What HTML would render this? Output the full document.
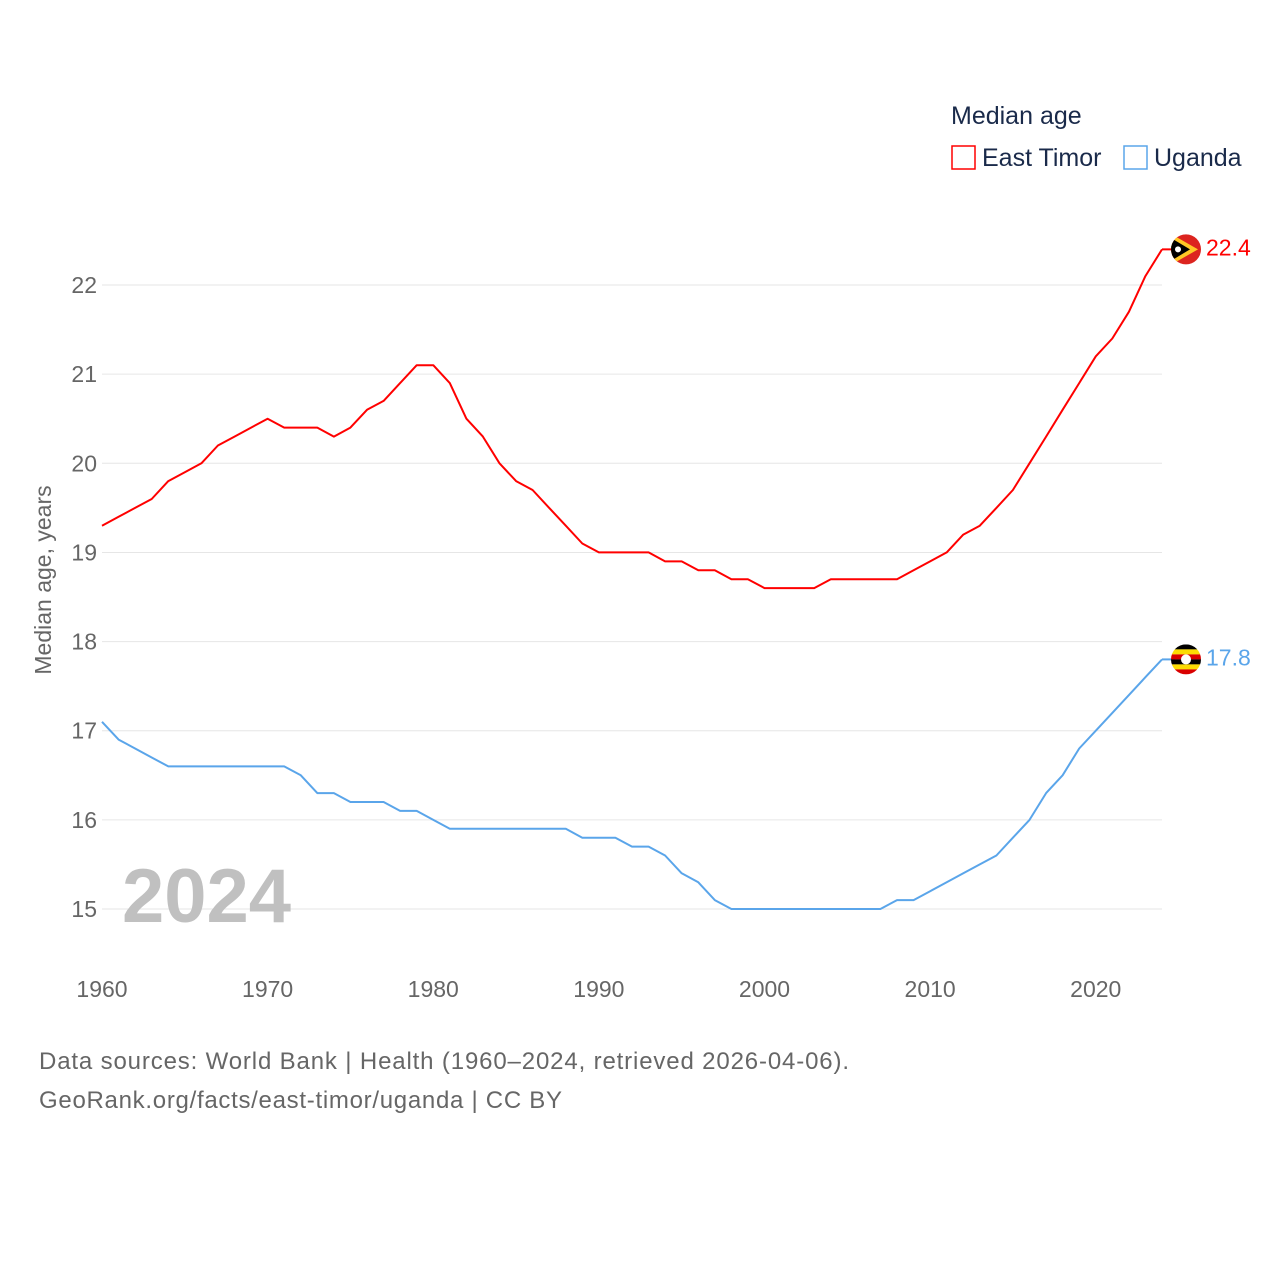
<!DOCTYPE html>
<html><head><meta charset="utf-8">
<style>
html,body{margin:0;padding:0;background:#fff;}
body{width:1280px;height:1280px;position:relative;font-family:"Liberation Sans",sans-serif;overflow:hidden;}
</style></head>
<body>
<svg id="chart" width="1280" height="1280" viewBox="0 0 1280 1280" xmlns="http://www.w3.org/2000/svg" font-family="Liberation Sans, sans-serif">
  <g id="grid"></g>
  <g id="yticks"></g>
  <g id="xticks"></g>
  <text x="122" y="922" font-size="76" font-weight="bold" fill="#c0c0c0">2024</text>
  <text transform="translate(51,580) rotate(-90)" text-anchor="middle" font-size="23" fill="#666">Median age, years</text>
  <g id="lines"></g>
  <g>
    <text x="951" y="124" font-size="25" fill="#1a2a4a">Median age</text>
    <rect x="952" y="146" width="23" height="23" fill="none" stroke="#ff0000" stroke-width="1.5"/>
    <text x="982" y="166" font-size="25" fill="#1a2a4a">East Timor</text>
    <rect x="1124" y="146" width="23" height="23" fill="none" stroke="#5aa5ea" stroke-width="1.5"/>
    <text x="1154" y="166" font-size="25" fill="#1a2a4a">Uganda</text>
  </g>
  <text x="39" y="1069" font-size="24" fill="#666" textLength="810" lengthAdjust="spacing">Data sources: World Bank | Health (1960–2024, retrieved 2026-04-06).</text>
  <text x="39" y="1108" font-size="24" fill="#666" textLength="523" lengthAdjust="spacing">GeoRank.org/facts/east-timor/uganda | CC BY</text>
</svg>
<script>
const years = [];
for (let y = 1960; y <= 2024; y++) years.push(y);
const eastTimor = [19.3,19.4,19.5,19.6,19.8,19.9,20.0,20.2,20.3,20.4,20.5,20.4,20.4,20.4,20.3,20.4,20.6,20.7,20.9,21.1,21.1,20.9,20.5,20.3,20.0,19.8,19.7,19.5,19.3,19.1,19.0,19.0,19.0,19.0,18.9,18.9,18.8,18.8,18.7,18.7,18.6,18.6,18.6,18.6,18.7,18.7,18.7,18.7,18.7,18.8,18.9,19.0,19.2,19.3,19.5,19.7,20.0,20.3,20.6,20.9,21.2,21.4,21.7,22.1,22.4];
const uganda = [17.1,16.9,16.8,16.7,16.6,16.6,16.6,16.6,16.6,16.6,16.6,16.6,16.5,16.3,16.3,16.2,16.2,16.2,16.1,16.1,16.0,15.9,15.9,15.9,15.9,15.9,15.9,15.9,15.9,15.8,15.8,15.8,15.7,15.7,15.6,15.4,15.3,15.1,15.0,15.0,15.0,15.0,15.0,15.0,15.0,15.0,15.0,15.0,15.1,15.1,15.2,15.3,15.4,15.5,15.6,15.8,16.0,16.3,16.5,16.8,17.0,17.2,17.4,17.6,17.8];
const yTicks = [15,16,17,18,19,20,21,22];
const xTicks = [1960,1970,1980,1990,2000,2010,2020];

const NS = "http://www.w3.org/2000/svg";
const X0 = 102, X1 = 1162, Y15 = 909, PXU = 89.14;
const xs = y => X0 + (y - 1960) * (X1 - X0) / 64;
const ys = v => Y15 - (v - 15) * PXU;
function mk(tag, attrs, parent) {
  const e = document.createElementNS(NS, tag);
  for (const k in attrs) e.setAttribute(k, attrs[k]);
  parent.appendChild(e);
  return e;
}
const grid = document.getElementById('grid');
const yt = document.getElementById('yticks');
yTicks.forEach(v => {
  const l = mk('line', {x1: X0, x2: X1, y1: ys(v), y2: ys(v), stroke: '#e6e6e6', 'stroke-width': 1}, grid);
  
  
  const t = mk('text', {x: 97, y: ys(v) + 8, 'text-anchor': 'end', 'font-size': 23, fill: '#666'}, yt);
  
  
  t.textContent = v;
});
const xt = document.getElementById('xticks');
xTicks.forEach(v => {
  const t = mk('text', {x: xs(v), y: 997, 'text-anchor': 'middle', 'font-size': 23, fill: '#666'}, xt);
  
  
  t.textContent = v;
});
const lines = document.getElementById('lines');
function series(vals, color, name) {
  const d = vals.map((v, i) => (i ? 'L' : 'M') + xs(years[i]).toFixed(1) + ',' + ys(v).toFixed(1)).join(' ');
  const p = mk('path', {d: d, fill: 'none', stroke: color, 'stroke-width': 2, 'stroke-linejoin': 'round'}, lines);
  
  
  const last = vals[vals.length - 1];
  const yL = ys(last);
  const c = mk('line', {x1: X1, x2: 1175, y1: yL, y2: yL, stroke: color, 'stroke-width': 2}, lines);
  
  
  const lab = mk('text', {x: 1206, y: yL + 6, 'font-size': 23, fill: color}, lines);
  
  
  lab.textContent = last.toFixed(1);
  return yL;
}
const yE = series(eastTimor, '#ff0000', 'east-timor');
const yU = series(uganda, '#5aa5ea', 'uganda');
// flags
const fE = mk('g', {}, lines);


const clipE = mk('clipPath', {id: 'etc'}, fE);
mk('circle', {cx: 1186, cy: yE, r: 15}, clipE);
const fEi = mk('g', {'clip-path': 'url(#etc)'}, fE);
mk('rect', {x: 1170, y: yE - 16, width: 32, height: 32, fill: '#dc241f'}, fEi);
mk('path', {d: `M1170,${yE-16} L1198,${yE} L1170,${yE+16} Z`, fill: '#ffc726'}, fEi);
mk('path', {d: `M1170,${yE-12} L1190,${yE} L1170,${yE+12} Z`, fill: '#000'}, fEi);
mk('circle', {cx: 1178, cy: yE, r: 3, fill: '#fff'}, fEi);
const fU = mk('g', {}, lines);


const clip = mk('clipPath', {id: 'ugc'}, fU);
mk('circle', {cx: 1186, cy: yU, r: 15}, clip);
const cols = ['#000', '#fcdc04', '#d90000', '#000', '#fcdc04', '#d90000'];
cols.forEach((c, i) => mk('rect', {x: 1171, y: yU - 15 + i * 5, width: 30, height: 5, fill: c, 'clip-path': 'url(#ugc)'}, fU));
mk('circle', {cx: 1186, cy: yU, r: 5, fill: '#fff'}, fU);
</script>
</body></html>
